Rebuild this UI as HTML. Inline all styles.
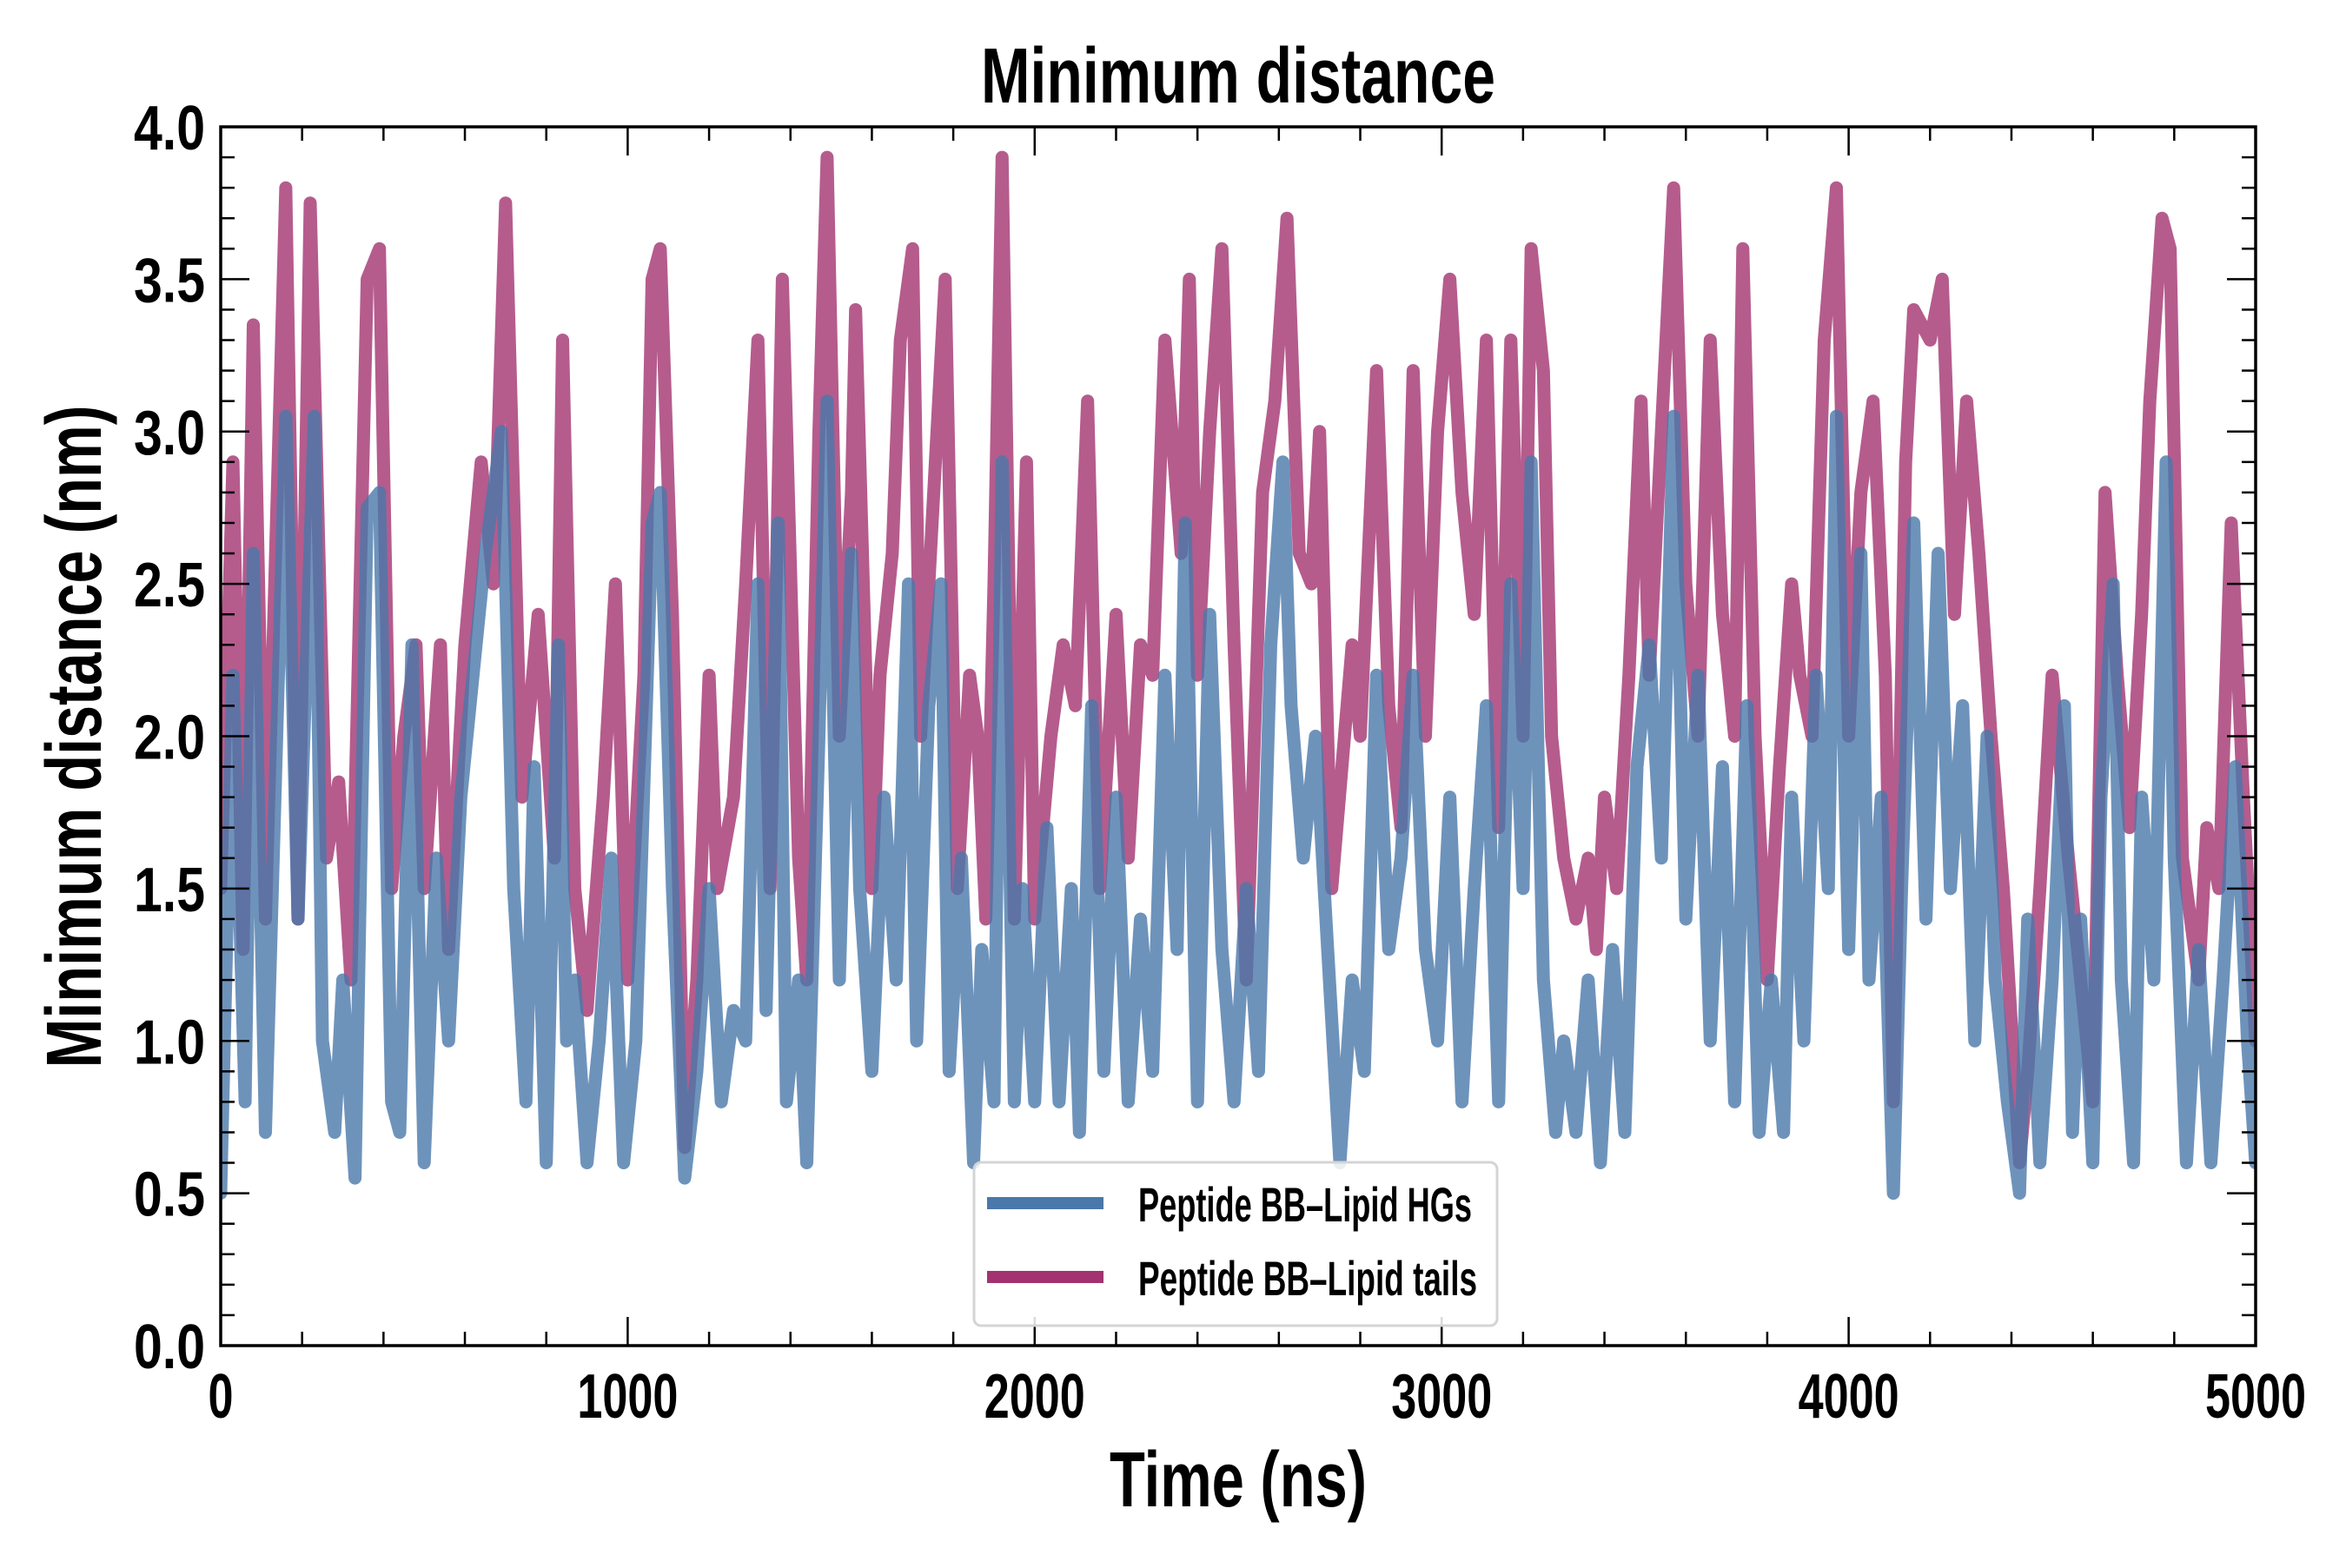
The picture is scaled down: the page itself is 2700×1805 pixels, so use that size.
<!DOCTYPE html>
<html><head><meta charset="utf-8"><style>
html,body{margin:0;padding:0;background:#fff;}
svg text{font-family:"Liberation Sans Narrow","Liberation Sans",sans-serif;font-weight:bold;fill:#000;}
</style></head><body>
<svg id="chart" width="2700" height="1800" viewBox="0 0 2700 1800" xmlns="http://www.w3.org/2000/svg">
<g id="plot"></g>
</svg>
<script>
const xTicks=[0,1000,2000,3000,4000,5000];
const yTicks=[0.0,0.5,1.0,1.5,2.0,2.5,3.0,3.5,4.0];
const hgTimes=[0,30,60,80,110,160,190,230,250,280,300,330,360,390,420,440,470,500,530,560,590,620,650,690,720,750,770,800,830,850,870,900,930,960,990,1020,1060,1080,1110,1140,1170,1200,1230,1260,1290,1320,1340,1370,1390,1420,1440,1470,1490,1520,1550,1570,1600,1630,1660,1690,1710,1740,1770,1790,1820,1850,1870,1900,1920,1950,1970,2000,2030,2060,2090,2110,2140,2170,2200,2230,2260,2290,2320,2350,2370,2400,2430,2460,2490,2520,2550,2580,2610,2630,2660,2690,2720,2750,2780,2810,2840,2870,2900,2930,2960,2990,3020,3050,3080,3110,3140,3170,3200,3220,3250,3280,3300,3330,3360,3390,3420,3450,3480,3510,3540,3570,3600,3630,3660,3690,3720,3750,3780,3810,3840,3860,3890,3920,3950,3970,4000,4030,4050,4080,4110,4130,4160,4190,4220,4250,4280,4310,4340,4360,4390,4420,4440,4470,4500,4530,4550,4570,4600,4620,4650,4670,4700,4720,4750,4780,4800,4830,4860,4890,4920,4950,4980,5000];
const hgValues=[0.5,2.2,0.8,2.6,0.7,3.05,1.4,3.05,1.0,0.7,1.2,0.55,2.75,2.8,0.8,0.7,2.3,0.6,1.6,1.0,1.8,2.2,2.6,3.0,1.5,0.8,1.9,0.6,2.3,1.0,1.2,0.6,1.0,1.6,0.6,1.0,2.7,2.8,1.5,0.55,0.9,1.5,0.8,1.1,1.0,2.5,1.1,2.7,0.8,1.2,0.6,2.0,3.1,1.2,2.6,1.5,0.9,1.8,1.2,2.5,1.0,2.1,2.5,0.9,1.6,0.6,1.3,0.8,2.9,0.8,1.5,0.8,1.7,0.8,1.5,0.7,2.1,0.9,1.8,0.8,1.4,0.9,2.2,1.3,2.7,0.8,2.4,1.3,0.8,1.5,0.9,2.3,2.9,2.1,1.6,2.0,1.3,0.6,1.2,0.9,2.2,1.3,1.6,2.2,1.3,1.0,1.8,0.8,1.5,2.1,0.8,2.5,1.5,2.9,1.2,0.7,1.0,0.7,1.2,0.6,1.3,0.7,1.9,2.3,1.6,3.05,1.4,2.2,1.0,1.9,0.8,2.1,0.7,1.2,0.7,1.8,1.0,2.2,1.5,3.05,1.3,2.6,1.2,1.8,0.5,1.5,2.7,1.4,2.6,1.5,2.1,1.0,2.0,1.2,0.8,0.5,1.4,0.6,1.2,2.1,0.7,1.4,0.6,1.8,2.5,1.2,0.6,1.8,1.2,2.9,1.6,0.6,1.3,0.6,1.2,1.9,1.0,0.6];
const tailTimes=[0,30,55,80,110,160,190,220,260,290,320,360,390,420,450,480,500,540,560,600,640,670,700,740,780,820,840,870,900,940,970,1000,1040,1060,1080,1110,1140,1170,1200,1220,1260,1290,1320,1350,1380,1420,1440,1470,1490,1520,1550,1560,1600,1620,1650,1670,1700,1720,1760,1780,1810,1840,1860,1880,1900,1920,1950,1980,2000,2040,2070,2100,2130,2160,2200,2230,2260,2290,2320,2360,2380,2400,2430,2460,2490,2520,2560,2590,2620,2650,2680,2700,2730,2780,2800,2840,2870,2900,2930,2960,2990,3020,3050,3080,3110,3140,3170,3200,3220,3250,3270,3300,3330,3360,3380,3400,3430,3460,3490,3510,3540,3570,3600,3630,3660,3690,3720,3740,3770,3800,3830,3860,3880,3910,3940,3970,4000,4030,4060,4090,4110,4140,4160,4200,4230,4260,4290,4320,4350,4380,4420,4440,4470,4500,4540,4570,4600,4630,4660,4690,4720,4740,4770,4790,4820,4860,4880,4910,4940,4970,5000];
const tailValues=[1.5,2.9,1.3,3.35,1.4,3.8,1.4,3.75,1.6,1.85,1.2,3.5,3.6,1.5,2.0,2.3,1.5,2.3,1.3,2.3,2.9,2.5,3.75,1.8,2.4,1.6,3.3,1.5,1.1,1.8,2.5,1.2,2.2,3.5,3.6,2.4,0.65,1.2,2.2,1.5,1.8,2.5,3.3,1.5,3.5,1.6,1.2,3.0,3.9,2.0,2.8,3.4,1.5,2.2,2.6,3.3,3.6,2.0,3.0,3.5,1.5,2.2,2.0,1.4,2.5,3.9,1.4,2.9,1.4,2.0,2.3,2.1,3.1,1.5,2.4,1.6,2.3,2.2,3.3,2.6,3.5,2.2,3.0,3.6,2.3,1.2,2.8,3.1,3.7,2.6,2.5,3.0,1.5,2.3,2.0,3.2,2.1,1.7,3.2,2.0,3.0,3.5,2.8,2.4,3.3,1.7,3.3,2.0,3.6,3.2,2.0,1.6,1.4,1.6,1.3,1.8,1.5,2.2,3.1,2.2,3.0,3.8,2.5,2.0,3.3,2.4,2.0,3.6,2.0,1.2,1.9,2.5,2.2,2.0,3.3,3.8,2.0,2.8,3.1,2.2,0.8,2.9,3.4,3.3,3.5,2.4,3.1,2.6,2.0,1.5,0.6,0.9,1.5,2.2,1.6,1.2,0.8,2.8,2.2,1.7,2.4,3.1,3.7,3.6,1.6,1.2,1.7,1.5,2.7,1.8,1.0];

const NS='http://www.w3.org/2000/svg';
const L=254,R=2596,T=146,B=1549;
const sx=t=>L+(t/5000)*(R-L);
const sy=v=>B-(v/4)*(B-T);
const plot=document.getElementById('plot');
function mk(tag,attrs,parent){const e=document.createElementNS(NS,tag);for(const k in attrs)e.setAttribute(k,attrs[k]);(parent||plot).appendChild(e);return e;}

const defs=mk('defs',{});
const cp=mk('clipPath',{id:'clip'},defs);
mk('rect',{x:L,y:T,width:R-L,height:B-T},cp);

function series(times,vals,color,name){
  let d='';
  times.forEach((t,i)=>{d+=(i?'L':'M')+sx(t).toFixed(1)+' '+sy(vals[i]).toFixed(1);});
  const p=mk('path',{d:d,fill:'none',stroke:color,'stroke-width':15,'stroke-linejoin':'round','stroke-linecap':'round','clip-path':'url(#clip)','stroke-opacity':0.8});
  
  
}
series(tailTimes,tailValues,'#a23370','series-lipid-tails');
series(hgTimes,hgValues,'#4a78aa','series-lipid-hgs');

for(let t=0;t<=5000;t+=200){
  const major=t%1000===0, len=major?33:16, x=sx(t);
  const a=mk('line',{x1:x,x2:x,y1:B,y2:B-len,stroke:'#000','stroke-width':2.5});
  
  
  mk('line',{x1:x,x2:x,y1:T,y2:T+len,stroke:'#000','stroke-width':2.5});
}
for(let i=0;i<=40;i++){
  const v=i/10, major=i%5===0, len=major?33:16, y=sy(v);
  const a=mk('line',{x1:L,x2:L+len,y1:y,y2:y,stroke:'#000','stroke-width':2.5});
  
  
  mk('line',{x1:R,x2:R-len,y1:y,y2:y,stroke:'#000','stroke-width':2.5});
}
xTicks.forEach(t=>{
  const tx=mk('text',{x:sx(t),y:1632,'font-size':72,'text-anchor':'middle',textLength:String(t).length*29,lengthAdjust:'spacingAndGlyphs'});
  tx.textContent=String(t);
  
  
});
yTicks.forEach(v=>{
  const tx=mk('text',{x:236,y:sy(v)+26,'font-size':72,'text-anchor':'end',textLength:82,lengthAdjust:'spacingAndGlyphs'});
  tx.textContent=v.toFixed(1);
  
  
});
const frame=mk('rect',{x:L,y:T,width:R-L,height:B-T,fill:'none',stroke:'#000','stroke-width':3.5});



const title=mk('text',{x:1425,y:118,'font-size':90,'text-anchor':'middle',textLength:592,lengthAdjust:'spacingAndGlyphs'});
title.textContent='Minimum distance';


const xl=mk('text',{x:1425,y:1734,'font-size':90,'text-anchor':'middle',textLength:296,lengthAdjust:'spacingAndGlyphs'});
xl.textContent='Time (ns)';


const yl=mk('text',{x:0,y:0,'font-size':90,'text-anchor':'middle',textLength:763,lengthAdjust:'spacingAndGlyphs',transform:'translate(116 848) rotate(-90)'});
yl.textContent='Minimum distance (nm)';



const lg=mk('g',{});


mk('rect',{x:1121,y:1338,width:602,height:188,rx:8,fill:'#fff','fill-opacity':0.85,stroke:'#d4d4d4','stroke-width':3},lg);
const ents=[['Peptide BB\u2013Lipid HGs','#4a78aa',1385,384,'legend-entry-hgs'],['Peptide BB\u2013Lipid tails','#a23370',1470,390,'legend-entry-tails']];
ents.forEach(e=>{
  const g=mk('g',{},lg);
  
  
  mk('line',{x1:1136,x2:1270,y1:e[2],y2:e[2],stroke:e[1],'stroke-width':14},g);
  const t=mk('text',{x:1310,y:e[2]+21,'font-size':56,textLength:e[3],lengthAdjust:'spacingAndGlyphs'},g);
  t.textContent=e[0];
});
</script>
</body></html>
